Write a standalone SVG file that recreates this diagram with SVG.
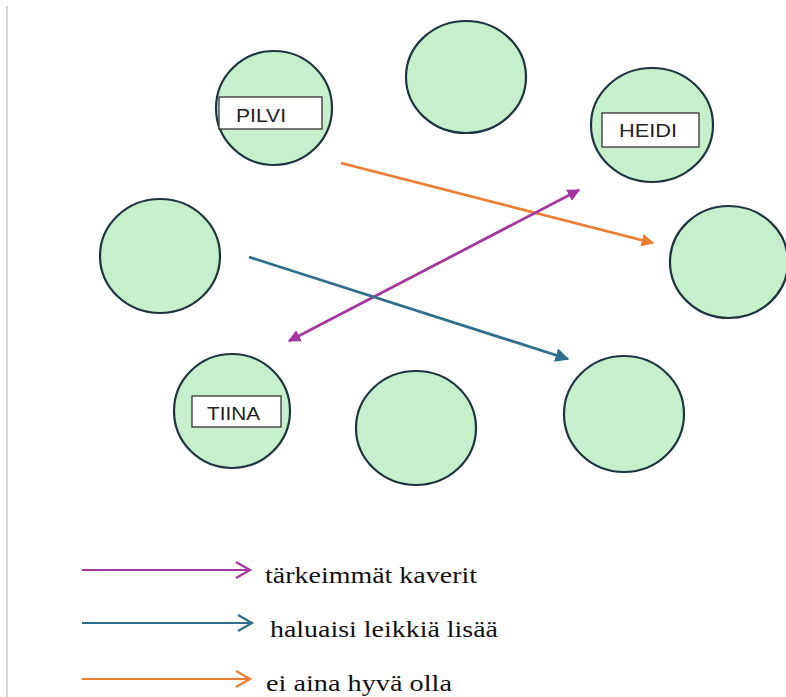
<svg xmlns="http://www.w3.org/2000/svg" width="786" height="697" viewBox="0 0 786 697">
<style>
.node ellipse{fill:#C6EFCB;stroke:#1E3441;stroke-width:2.2}
.lbl rect{fill:#fff;stroke:#333;stroke-width:1.3}
.lbl text{font-family:"Liberation Sans",Arial,sans-serif;font-size:18px;fill:#222}
.leg{font-family:"Liberation Serif","Times New Roman",serif;font-size:23px;fill:#111}
.c{fill:none;stroke-width:2.8}
</style>
<defs>
<marker id="ao" viewBox="0 0 10 10" refX="9" refY="5" markerWidth="4.5" markerHeight="4.5" orient="auto-start-reverse" markerUnits="strokeWidth"><path d="M0,0 L10,5 L0,10 z" fill="#ED7D31"/></marker>
<marker id="am" viewBox="0 0 10 10" refX="9" refY="5" markerWidth="4.5" markerHeight="4.5" orient="auto-start-reverse" markerUnits="strokeWidth"><path d="M0,0 L10,5 L0,10 z" fill="#A3379F"/></marker>
<marker id="ab" viewBox="0 0 10 10" refX="9" refY="5" markerWidth="5" markerHeight="5" orient="auto-start-reverse" markerUnits="strokeWidth"><path d="M0,0 L10,5 L0,10 z" fill="#2F6F8C"/></marker>
</defs>
<rect width="786" height="697" fill="#fff"/>
<line x1="7" y1="6" x2="7" y2="697" stroke="#c8c8c8" stroke-width="1.5"/>

<g id="n-pilvi" class="node"><ellipse cx="274" cy="108" rx="58" ry="57"/>
<g class="lbl"><rect x="219" y="97" width="103" height="32"/><text x="236" y="122" textLength="50" lengthAdjust="spacingAndGlyphs">PILVI</text></g></g>
<g id="n-top" class="node"><ellipse cx="466" cy="77" rx="60" ry="56"/></g>
<g id="n-heidi" class="node"><ellipse cx="652" cy="125" rx="61" ry="57"/>
<g class="lbl"><rect x="602" y="113" width="97" height="34"/><text x="619" y="137" textLength="58" lengthAdjust="spacingAndGlyphs">HEIDI</text></g></g>
<g id="n-left" class="node"><ellipse cx="160" cy="256" rx="60" ry="57"/></g>
<g id="n-right" class="node"><ellipse cx="729" cy="262" rx="59" ry="56"/></g>
<g id="n-tiina" class="node"><ellipse cx="232" cy="411" rx="58" ry="57"/>
<g class="lbl"><rect x="192" y="396" width="89" height="31"/><text x="207" y="420" textLength="53" lengthAdjust="spacingAndGlyphs">TIINA</text></g></g>
<g id="n-bottom" class="node"><ellipse cx="416" cy="428" rx="60" ry="57"/></g>
<g id="n-bright" class="node"><ellipse cx="624" cy="414" rx="60" ry="58"/></g>

<g id="connectors">
<line class="c" x1="341" y1="163" x2="653" y2="243" stroke="#ED7D31" marker-end="url(#ao)"/>
<line class="c" x1="289" y1="341" x2="579" y2="190" stroke="#A3379F" marker-start="url(#am)" marker-end="url(#am)"/>
<line class="c" x1="249" y1="257" x2="568" y2="359" stroke="#2F6F8C" stroke-width="2.2" marker-end="url(#ab)"/>
</g>

<g id="legend" fill="none" stroke-width="2.2">
<path d="M82,570 H250 M236,562 L250,570 L236,578" stroke="#A3379F"/>
<path d="M82,623 H252 M238,615 L252,623 L238,631" stroke="#2F6F8C"/>
<path d="M82,679 H250 M236,671 L250,679 L236,687" stroke="#ED7D31"/>
</g>
<text class="leg" x="265" y="583" textLength="212" lengthAdjust="spacingAndGlyphs">tärkeimmät kaverit</text>
<text class="leg" x="270" y="637" textLength="228" lengthAdjust="spacingAndGlyphs">haluaisi leikkiä lisää</text>
<text class="leg" x="266" y="691" textLength="186" lengthAdjust="spacingAndGlyphs">ei aina hyvä olla</text>
</svg>
